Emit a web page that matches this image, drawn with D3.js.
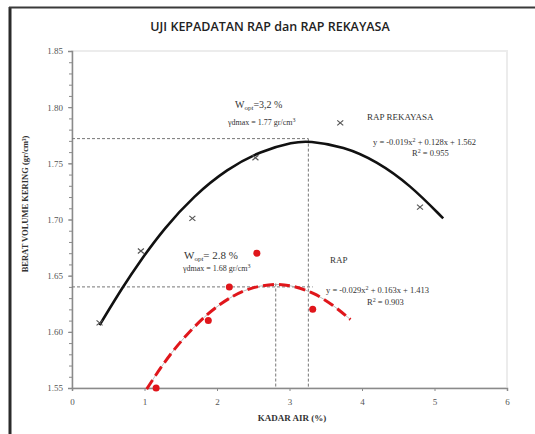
<!DOCTYPE html>
<html>
<head>
<meta charset="utf-8">
<script src="https://cdn.jsdelivr.net/npm/d3@7"></script>
<style>
  body { margin: 0; background: #fff; }
  svg text { font-family: "Liberation Serif", "DejaVu Serif", serif; }
</style>
</head>
<body>
<div id="chart"></div>
<script>
// RAP REKAYASA measured points (kadar air %, berat volume kering)
const rekayasaX = [0.38, 0.95, 1.66, 2.53, 3.70, 4.80];
const rekayasaY = [1.608, 1.672, 1.701, 1.755, 1.786, 1.711];
// RAP REKAYASA trend line
const rekayasaTrendX = [0.38, 0.70, 0.95, 1.27, 1.68, 2.14, 2.60, 3.06, 3.26, 3.75, 4.20, 4.66, 5.12];
const rekayasaTrendY = [1.606, 1.640, 1.664, 1.692, 1.721, 1.745, 1.761, 1.769, 1.770, 1.765, 1.752, 1.731, 1.701];

// RAP measured points
const rapX = [1.16, 1.88, 2.17, 2.55, 3.32];
const rapY = [1.550, 1.610, 1.640, 1.670, 1.620];
// RAP trend line
const rapTrendX = [1.03, 1.25, 1.50, 1.87, 2.23, 2.50, 2.81, 3.05, 3.33, 3.60, 3.84];
const rapTrendY = [1.549, 1.571, 1.592, 1.617, 1.633, 1.640, 1.643, 1.641, 1.635, 1.624, 1.611];

// optimum guide lines
const optRekayasa = {x: 3.26, y: 1.772};
const optRap = {x: 2.81, y: 1.643, yLine: 1.640, xEnd: 3.32};

const xTicks = [0, 1, 2, 3, 4, 5, 6];
const yTicks = [1.55, 1.60, 1.65, 1.70, 1.75, 1.80, 1.85];

const W = 535, H = 434;
const svg = d3.select("#chart").append("svg")
    .attr("width", W)
    .attr("height", H);

// outer frame (left + top only, like the scan)
svg.append("line").attr("x1", 10).attr("x2", 10).attr("y1", 7).attr("y2", H)
    .attr("stroke", "#2b2b2b").attr("stroke-width", 3);
svg.append("line").attr("x1", 9).attr("x2", W).attr("y1", 7.5).attr("y2", 7.5)
    .attr("stroke", "#3a3a3a").attr("stroke-width", 2);

// title
svg.append("text")
    .attr("x", 270).attr("y", 31)
    .attr("text-anchor", "middle")
    .style("font-family", "'Open Sans', 'Liberation Sans', sans-serif")
    .style("font-weight", 600)
    .style("font-size", "12.5px")
    .attr("fill", "#222")
    .text("UJI KEPADATAN RAP dan RAP REKAYASA");

const x = d3.scaleLinear().domain([0, 6]).range([72, 507]);
const y = d3.scaleLinear().domain([1.55, 1.85]).range([388, 51]);

// plot area frame
svg.append("rect")
    .attr("x", x(0)).attr("y", y(1.85))
    .attr("width", x(6) - x(0)).attr("height", y(1.55) - y(1.85))
    .attr("fill", "none").attr("stroke", "#ececec").attr("stroke-width", 2);

// y axis
svg.append("g")
    .attr("transform", `translate(${x(0)},0)`)
    .call(d3.axisLeft(y).tickValues(yTicks).tickFormat(d3.format(".2f")).tickSize(4).tickPadding(5));
// minor ticks
svg.append("g")
    .attr("transform", `translate(${x(0)},0)`)
    .call(d3.axisLeft(y).tickValues(d3.range(1.55, 1.851, 0.01)).tickFormat("").tickSize(3))
    .call(g => g.select(".domain").remove());

svg.append("g")
    .attr("transform", `translate(0,${y(1.55)})`)
    .call(d3.axisBottom(x).tickValues(xTicks).tickFormat(d3.format("d")).tickSize(3).tickPadding(8));

svg.selectAll(".domain").attr("stroke", "#8a8a8a").attr("stroke-width", 1.5);
svg.selectAll(".tick line").attr("stroke", "#8a8a8a");
svg.selectAll(".tick text")
    .style("font-family", "'Liberation Serif', serif")
    .style("font-size", "9px")
    .attr("fill", "#555");

// axis titles
svg.append("text")
    .attr("transform", "translate(28,204) rotate(-90)")
    .attr("text-anchor", "middle")
    .style("font-size", "8.5px").style("font-weight", "bold")
    .attr("fill", "#333")
    .text("BERAT VOLUME KERING (gr/cm³)");
svg.append("text")
    .attr("x", 292).attr("y", 421)
    .attr("text-anchor", "middle")
    .style("font-size", "9px").style("font-weight", "bold")
    .attr("fill", "#333")
    .text("KADAR AIR (%)");

// guide lines
const guide = (x1, y1, x2, y2) => svg.append("line")
    .attr("x1", x(x1)).attr("y1", y(y1)).attr("x2", x(x2)).attr("y2", y(y2))
    .attr("stroke", "#777").attr("stroke-width", 1).attr("stroke-dasharray", "3,2");
guide(0, optRekayasa.y, optRekayasa.x, optRekayasa.y);
guide(optRekayasa.x, optRekayasa.y, optRekayasa.x, 1.55);
guide(0, optRap.yLine, optRap.xEnd, optRap.yLine);
guide(optRap.x, optRap.y, optRap.x, 1.55);

const line = d3.line()
    .x(d => x(d[0]))
    .y(d => y(d[1]))
    .curve(d3.curveBasis);

// RAP REKAYASA trend
svg.append("path")
    .datum(d3.zip(rekayasaTrendX, rekayasaTrendY))
    .attr("d", line)
    .attr("fill", "none").attr("stroke", "#111").attr("stroke-width", 2.6);

// RAP trend (thin line underneath + red dashes)
const rapPts = d3.zip(rapTrendX, rapTrendY);
svg.append("path")
    .datum(rapPts)
    .attr("d", line)
    .attr("fill", "none").attr("stroke", "#aaa").attr("stroke-width", 0.8);
svg.append("path")
    .datum(rapPts)
    .attr("d", line)
    .attr("fill", "none").attr("stroke", "#e0161b").attr("stroke-width", 3)
    .attr("stroke-dasharray", "11,5");

// RAP REKAYASA markers (x)
svg.append("g").selectAll("path")
    .data(d3.zip(rekayasaX, rekayasaY))
    .join("path")
    .attr("transform", d => `translate(${x(d[0])},${y(d[1])})`)
    .attr("d", "M-3,-2.5L3,2.5M-3,2.5L3,-2.5")
    .attr("stroke", "#555").attr("stroke-width", 1.2);

// RAP markers
svg.append("g").selectAll("circle")
    .data(d3.zip(rapX, rapY))
    .join("circle")
    .attr("cx", d => x(d[0]))
    .attr("cy", d => y(d[1]))
    .attr("r", 3.5)
    .attr("fill", "#e0161b");

// annotations
const note = (px, py, size) => svg.append("text")
    .attr("x", px).attr("y", py)
    .style("font-size", size + "px")
    .attr("fill", "#333");

let t = note(235, 108, 10);
t.append("tspan").text("W");
t.append("tspan").attr("dy", 2).style("font-size", "7px").text("opt");
t.append("tspan").attr("dy", -2).text("=3,2 %");
t = note(228, 125, 8);
t.append("tspan").text("γdmax = 1.77 gr/cm");
t.append("tspan").attr("dy", -3).style("font-size", "6px").text("3");

note(367, 120, 9).text("RAP REKAYASA");
t = note(373, 145, 8.5);
t.append("tspan").text("y = -0.019x");
t.append("tspan").attr("dy", -3).style("font-size", "6px").text("2");
t.append("tspan").attr("dy", 3).text(" + 0.128x + 1.562");
t = note(412, 156, 8.5);
t.append("tspan").text("R");
t.append("tspan").attr("dy", -3).style("font-size", "6px").text("2");
t.append("tspan").attr("dy", 3).text(" = 0.955");

t = note(184, 259, 11);
t.append("tspan").text("W");
t.append("tspan").attr("dy", 2).style("font-size", "7px").text("opt");
t.append("tspan").attr("dy", -2).text("= 2.8 %");
t = note(183, 271, 8);
t.append("tspan").text("γdmax = 1.68 gr/cm");
t.append("tspan").attr("dy", -3).style("font-size", "6px").text("3");

note(330, 263, 9).text("RAP");
t = note(326, 293, 8.5);
t.append("tspan").text("y = -0.029x");
t.append("tspan").attr("dy", -3).style("font-size", "6px").text("2");
t.append("tspan").attr("dy", 3).text(" + 0.163x + 1.413");
t = note(367, 305, 8.5);
t.append("tspan").text("R");
t.append("tspan").attr("dy", -3).style("font-size", "6px").text("2");
t.append("tspan").attr("dy", 3).text(" = 0.903");
</script>
</body>
</html>
